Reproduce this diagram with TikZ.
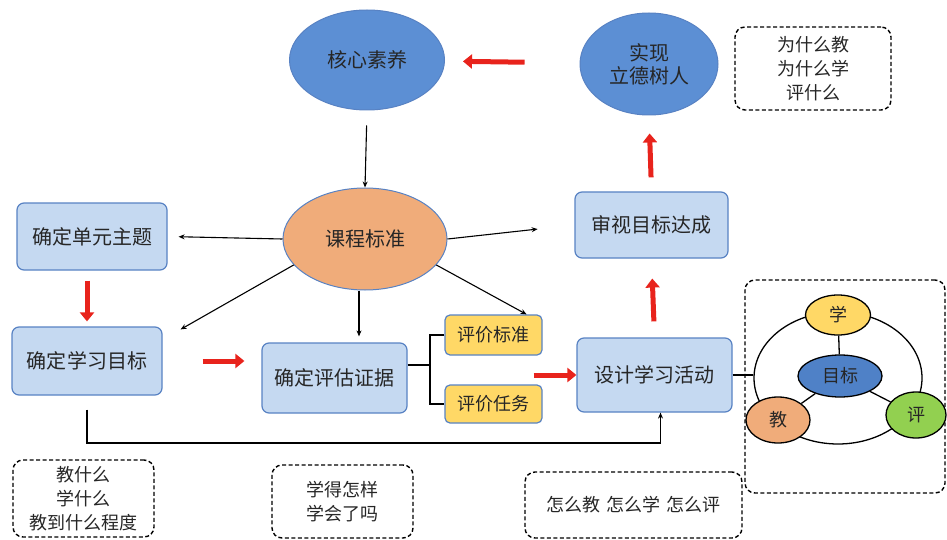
\documentclass[tikz,border=0pt]{standalone}
\usepackage{fontspec}
\setmainfont{Noto Sans CJK SC}
\usetikzlibrary{arrows.meta,shapes.geometric}
\definecolor{lanbian}{RGB}{88,130,195}
\definecolor{shenlan}{RGB}{92,143,212}
\definecolor{qianlan}{RGB}{197,217,241}
\definecolor{cheng}{RGB}{240,172,122}
\definecolor{huang}{RGB}{255,216,102}
\definecolor{hongse}{RGB}{232,35,28}
\definecolor{mblan}{RGB}{79,129,199}
\definecolor{lv}{RGB}{146,208,80}
\definecolor{wenzi}{RGB}{38,38,38}
\begin{document}
\begin{tikzpicture}[x=1pt, y=-1pt, >={Stealth[length=6pt,width=5pt]}, line width=1.1pt,
    font=\fontsize{20}{23}\selectfont, text=wenzi,
    tuoyuan/.style={ellipse, draw=lanbian, line width=1pt, inner sep=0pt, align=center},
    lankuang/.style={draw=lanbian, fill=qianlan, rounded corners=7pt, line width=1.2pt, inner sep=0pt},
    huangkuang/.style={draw=lanbian, fill=huang, rounded corners=5pt, line width=1.2pt, inner sep=0pt, minimum width=97pt, minimum height=40pt, font=\fontsize{18}{20}\selectfont},
    xukuang/.style={draw, dash pattern=on 4pt off 2.5pt, rounded corners=10pt, line width=1.4pt, inner sep=0pt, align=center, font=\fontsize{18}{24}\selectfont},
    hong/.style={draw=hongse, line width=5pt, -{Triangle[length=9pt,width=14pt]}},
    xiao/.style={ellipse, draw=black, line width=1.3pt, inner sep=0pt, font=\fontsize{18}{20}\selectfont}]

    \useasboundingbox (0,0) rectangle (947,540);

    % top row
    \node[tuoyuan, fill=shenlan, minimum width=155pt, minimum height=100pt] (hexin) at (367,60) {核心素养};
    \node[tuoyuan, fill=shenlan, minimum width=138pt, minimum height=102pt] (shixian) at (649,64) {实现\\立德树人};
    \node[xukuang, minimum width=156pt, minimum height=83pt] (weishenme) at (813,68.5) {为什么教\\为什么学\\评什么};

    \node[tuoyuan, fill=cheng, minimum width=164pt, minimum height=102pt] (kecheng) at (365,239) {课程标准};
    \node[lankuang, minimum width=150pt, minimum height=67pt] (danyuan) at (92,236.5) {确定单元主题};
    \node[lankuang, minimum width=153pt, minimum height=66pt] (shenshi) at (651.5,225) {审视目标达成};

    % middle row
    \node[lankuang, minimum width=150pt, minimum height=68pt] (xuexi) at (87,361) {确定学习目标};
    \node[lankuang, minimum width=145pt, minimum height=70pt] (zhengju) at (334.5,378) {确定评估证据};
    \node[huangkuang] (biaozhun) at (493.5,335) {评价标准};
    \node[huangkuang, minimum height=38pt] (renwu) at (493.5,404) {评价任务};
    \node[lankuang, minimum width=155pt, minimum height=74pt] (sheji) at (654.5,375) {设计学习活动};

    % red arrows
    \draw[hong, shorten <=55pt, shorten >=18pt] (shixian) -- (hexin);
    \draw[hong, shorten <=14pt, shorten >=18pt] (shenshi.north) -- (shixian.south);
    \draw[hong, shorten <=16pt, shorten >=20pt] (sheji.north) -- (shenshi.south);
    \draw[hong, shorten <=10pt, shorten >=5pt] ([xshift=-5pt]danyuan.south) -- (xuexi.north);
    \draw[hong, shorten <=40pt, shorten >=17pt] (xuexi.east) -- (xuexi.east -| zhengju.west);
    \draw[hong] ([xshift=-9pt]renwu.east |- sheji.west) -- (sheji.west);

    % black arrows
    \draw[->, shorten <=15pt] (hexin.south) -- (kecheng.north);
    \draw[->, shorten >=11pt] (kecheng.west) -- (danyuan.east);
    \draw[->, shorten >=37pt] (kecheng.east) -- (shenshi.west);
    \draw[->] (kecheng.200) -- ([xshift=18pt,yshift=-3pt]xuexi.north east);
    \draw[->, shorten >=6pt] ([xshift=-6pt]kecheng.south) -- ([xshift=-6pt]kecheng.south |- zhengju.north);
    \draw[->] (kecheng.-20) -- ([xshift=-16pt]biaozhun.north east);

    \coordinate (di) at (0,443);
    \draw[->, line width=1.4pt] ([yshift=-14pt]xuexi.south) |- ([xshift=6pt]sheji.south |- di) -- ([xshift=6pt]sheji.south);

    \coordinate (cha) at (430,365);
    \draw[line width=1.6pt] (zhengju.east |- cha) -- (cha);
    \draw[line width=1.6pt] (biaozhun.west) -| (cha) |- (renwu.west);

    % right frame
    \node[xukuang, minimum width=200pt, minimum height=213pt] (kuangjia) at (845,386.5) {};
    \node[ellipse, draw, line width=1.3pt, minimum width=168pt, minimum height=132pt] (quan) at (838,378) {};
    \draw[line width=1.3pt] (sheji.east) -- (sheji.east -| quan.west);
    \node[xiao, fill=huang, minimum width=65pt, minimum height=40pt] (xue) at (838,315) {学};
    \node[xiao, fill=mblan, minimum width=84pt, minimum height=42pt] (mubiao) at (840,376) {目标};
    \node[xiao, fill=cheng, minimum width=64pt, minimum height=46pt] (jiao) at (778,420) {教};
    \node[xiao, fill=lv, minimum width=60pt, minimum height=46pt] (ping) at (916,415) {评};
    \draw[line width=1.3pt] (xue) -- (mubiao) (mubiao) -- (jiao) (mubiao) -- (ping);

    % bottom notes
    \node[xukuang, minimum width=141pt, minimum height=77pt] (jiaoshenme) at (83.5,498.5) {教什么\\学什么\\教到什么程度};
    \node[xukuang, minimum width=141pt, minimum height=73pt] (xuede) at (342.5,501.5) {学得怎样\\学会了吗};
    \node[xukuang, minimum width=217pt, minimum height=66pt] (zenme) at (633.5,505) {怎么教\hspace{6pt}怎么学\hspace{6pt}怎么评};

\end{tikzpicture}
\end{document}
